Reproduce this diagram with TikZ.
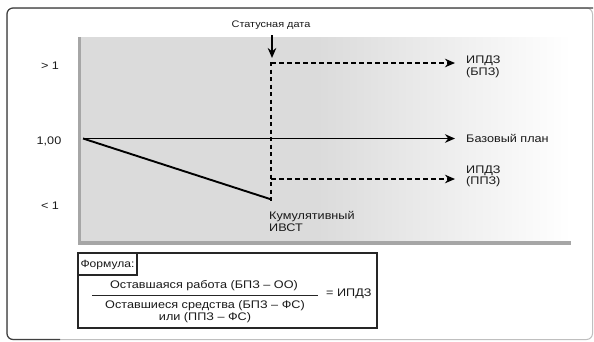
\documentclass[tikz,border=0pt]{standalone}
\usepackage{fontspec}
\setmainfont{Liberation Sans}[FakeStretch=1.15]
\usetikzlibrary{arrows.meta}
\begin{document}
\begin{tikzpicture}[x=1pt,y=-1pt,
  lbl/.style={font=\fontsize{11}{12}\selectfont, inner sep=0pt, text=black!90},
  lbll/.style={lbl, anchor=west, align=left, font=\fontsize{11}{11.5}\selectfont},
  tip/.style={-{Stealth[length=10pt,width=8.5pt]}},
  solidline/.style={line width=1.9pt, black},
  dashline/.style={line width=2.6pt, black, dash pattern=on 5pt off 3pt},
  dotline/.style={line width=2.8pt, black, dash pattern=on 4pt off 3.5pt},
  boxline/.style={line width=1.4pt, black!85}]
\useasboundingbox (0,0) rectangle (594,341);
% outer frame
\draw[black!25, line width=1pt, rounded corners=6] (7,8) rectangle (592.5,339.5);
\draw[black!75, line width=1.2pt, rounded corners=6] (60,339.5) -- (7,339.5) -- (7,8) -- (593,8);
% plot area
\fill[gray!28] (80,37) rectangle (320,242);
\shade[left color=gray!28, right color=white] (319.5,37) rectangle (571,242);
\fill[gray!70] (78,37) rectangle (81,245);
\fill[gray!70] (78,241) rectangle (571,245);
% y labels
\node[lbl] (gt) at (50,66) {> 1};
\node[lbl] (one) at (49,141) {1,00};
\node[lbl] (lt) at (50,206) {< 1};
% coordinates
\coordinate (o) at (83,138.5);
\coordinate (be) at (455,138.5);
\coordinate (low) at (270,199);
\coordinate (st) at (272,35);
\coordinate (sb) at (272,58);
\coordinate (vt) at (271,62);
\coordinate (vb) at (271,202);
\coordinate (ut) at (271,63);
\coordinate (ue) at (455,63);
\coordinate (lt0) at (271,179);
\coordinate (le) at (455,179);
% labels
\node[lbl, font=\fontsize{9.5}{10}\selectfont] (status) at (271,25) {Статусная дата};
\node[lbll] (bpz) at (466,67) {ИПДЗ\\(БПЗ)};
\node[lbll] (base) at (466,138.5) {Базовый план};
\node[lbll] (ppz) at (466,176.5) {ИПДЗ\\(ППЗ)};
\node[lbll] (cum) at (269,221.5) {Кумулятивный\\ИВСТ};
% lines
\draw[solidline, tip] (o) -- (be);
\draw[solidline] (o) -- (low);
\draw[line width=1.9pt, black, tip] (st) -- (sb);
\draw[dotline] (vt) -- (vb);
\draw[dashline, tip] (ut) -- (ue);
\draw[dashline, tip] (lt0) -- (le);
% formula box
\draw[boxline, fill=white] (78,253) rectangle (377,328);
\draw[boxline] (78,253) rectangle (137,275);
\node[lbl, font=\fontsize{10.5}{11}\selectfont] (flab) at (107.5,264.5) {Формула:};
\node[lbl] (num) at (204,286) {Оставшаяся работа (БПЗ – ОО)};
\coordinate (fl) at (92,295.5);
\coordinate (fr) at (318,295.5);
\draw[line width=1pt, black!85] (fl) -- (fr);
\node[lbl] (den) at (205,306) {Оставшиеся средства (БПЗ – ФС)};
\node[lbl] (den2) at (205,318) {или (ППЗ – ФС)};
\node[lbl, anchor=west] (eq) at (326,293.5) {= ИПДЗ};
\end{tikzpicture}
\end{document}
